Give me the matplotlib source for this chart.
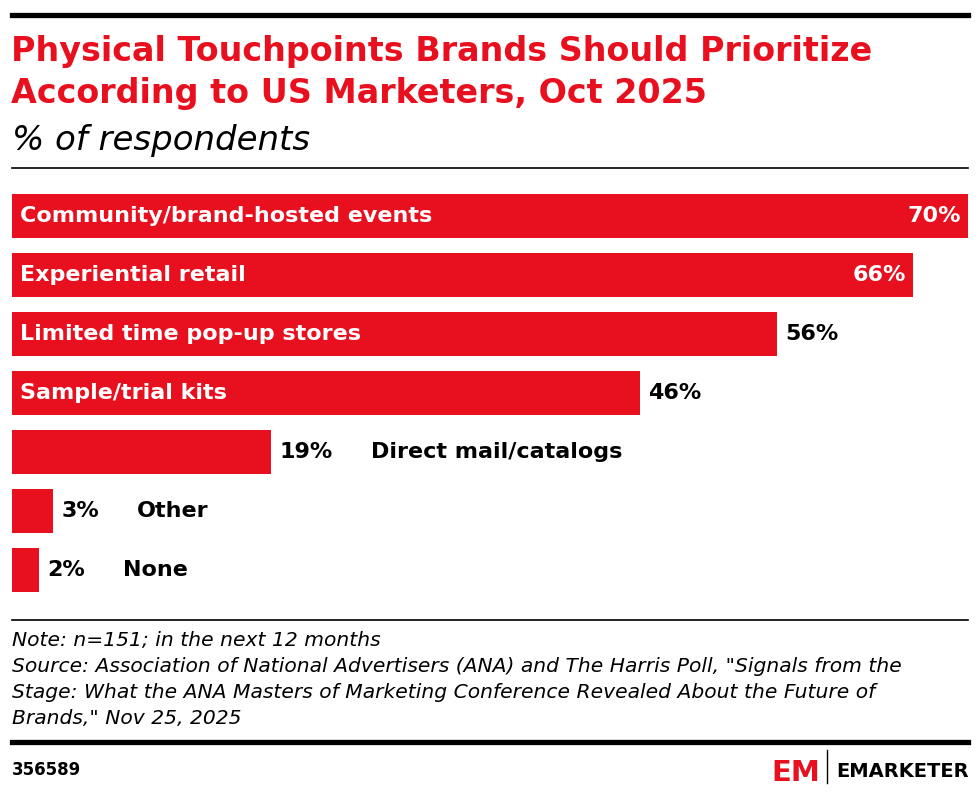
import matplotlib
matplotlib.use("Agg")
import matplotlib.pyplot as plt
from matplotlib.lines import Line2D

categories = ["Community/brand-hosted events", "Experiential retail",
              "Limited time pop-up stores", "Sample/trial kits",
              "Direct mail/catalogs", "Other", "None"]
values = [70, 66, 56, 46, 19, 3, 2]
value_labels = ["70%", "66%", "56%", "46%", "19%", "3%", "2%"]

RED = "#E8101E"
W, H = 980, 794
plt.rcParams["font.family"] = ["DejaVu Sans"]

fig = plt.figure(figsize=(W / 100, H / 100), dpi=100)

def fx(px):
    return px / W

def fy(py):
    return 1 - py / H

# top thick rule
fig.add_artist(Line2D([fx(12), fx(968)], [fy(14.5), fy(14.5)], color="black", lw=3.8))
fig.text(fx(11), fy(61), "Physical Touchpoints Brands Should Prioritize", color=RED,
         fontsize=24, fontweight="bold", ha="left", va="baseline")
fig.text(fx(11), fy(103), "According to US Marketers, Oct 2025", color=RED,
         fontsize=24, fontweight="bold", ha="left", va="baseline")
fig.text(fx(12), fy(150), "% of respondents", color="black", fontsize=24.5,
         fontstyle="italic", ha="left", va="baseline")
fig.add_artist(Line2D([fx(12), fx(968)], [fy(168), fy(168)], color="black", lw=1.2))

# bars
ax = fig.add_axes([fx(12), fy(600), fx(968) - fx(12), (600 - 186) / H])
ypos = list(range(len(categories)))
ax.barh(ypos, values, height=44 / 59, color=RED, left=0)
ax.set_xlim(0, 70)
ax.set_ylim(len(categories) - 0.5, -0.5)
ax.axis("off")

LFS = 16
for i, (cat, v, lab) in enumerate(zip(categories, values, value_labels)):
    if v >= 60:
        ax.text(0.6, i, cat, color="white", fontsize=LFS, fontweight="bold", va="center", ha="left")
        ax.annotate(lab, xy=(v, i), xytext=(-5, 0), textcoords="offset points",
                    color="white", fontsize=LFS, fontweight="bold", va="center", ha="right")
    elif v >= 40:
        ax.text(0.6, i, cat, color="white", fontsize=LFS, fontweight="bold", va="center", ha="left")
        ax.annotate(lab, xy=(v, i), xytext=(6, 0), textcoords="offset points",
                    color="black", fontsize=LFS, fontweight="bold", va="center", ha="left")
    else:
        t = ax.annotate(lab, xy=(v, i), xytext=(6, 0), textcoords="offset points",
                        color="black", fontsize=LFS, fontweight="bold", va="center", ha="left")
        ax.annotate(cat, xy=(1, 0.5), xycoords=t, xytext=(27, 0), textcoords="offset points",
                    color="black", fontsize=LFS, fontweight="bold", va="center", ha="left")

# footer
fig.add_artist(Line2D([fx(12), fx(968)], [fy(620), fy(620)], color="black", lw=1.2))
notes = ["Note: n=151; in the next 12 months",
         "Source: Association of National Advertisers (ANA) and The Harris Poll, \"Signals from the",
         "Stage: What the ANA Masters of Marketing Conference Revealed About the Future of",
         "Brands,\" Nov 25, 2025"]
for k, line in enumerate(notes):
    fig.text(fx(12), fy(646 + 26 * k), line, color="black", fontsize=14.6,
             fontstyle="italic", ha="left", va="baseline")
fig.add_artist(Line2D([fx(12), fx(968)], [fy(742), fy(742)], color="black", lw=3.8))
fig.text(fx(12), fy(775), "356589", color="black", fontsize=12, fontweight="bold",
         ha="left", va="baseline")

# logo
fig.text(fx(771), fy(781), "EM", color=RED, fontsize=21, fontweight="bold",
         ha="left", va="baseline")
fig.add_artist(Line2D([fx(827), fx(827)], [fy(750), fy(783)], color="black", lw=1))
fig.text(fx(836), fy(777), "EMARKETER", color="black", fontsize=14, fontweight="bold",
         ha="left", va="baseline")

fig.savefig("out.png", dpi=100)
